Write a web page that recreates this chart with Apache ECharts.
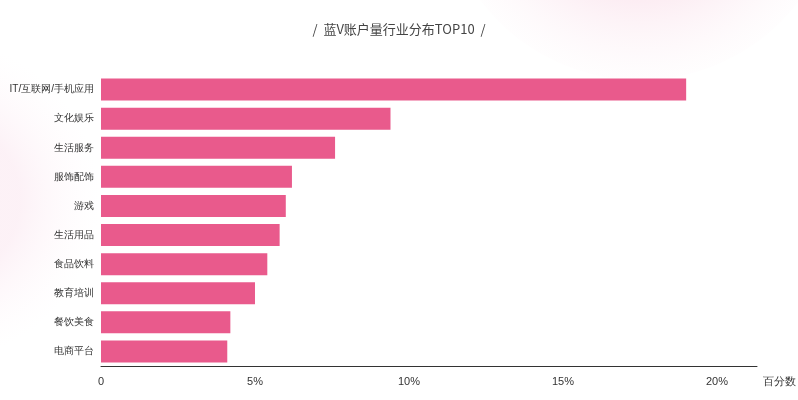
<!DOCTYPE html>
<html><head><meta charset="utf-8">
<script src="https://cdn.jsdelivr.net/npm/echarts@6/dist/echarts.min.js"></script>
<style>html,body{margin:0;padding:0;background:#fff}#c{width:798px;height:400px}</style>
</head><body><div id="c"></div>
<script>
const categories = ['IT/互联网/手机应用','文化娱乐','生活服务','服饰配饰','游戏','生活用品','食品饮料','教育培训','餐饮美食','电商平台'];
const values = [19.0, 9.4, 7.6, 6.2, 6.0, 5.8, 5.4, 5.0, 4.2, 4.1];
const chart = echarts.init(document.getElementById('c'));
chart.setOption({
  backgroundColor: '#fff',
  graphic: [
    {type:'circle', shape:{cx:640,cy:-120,r:200}, z:-10, silent:true,
     style:{fill:new echarts.graphic.RadialGradient(0.5,0.5,0.5,[{offset:0.6,color:'rgba(250,225,235,0.6)'},{offset:1,color:'rgba(252,240,245,0.1)'}])}},
    {type:'circle', shape:{cx:-60,cy:200,r:160}, z:-10, silent:true,
     style:{fill:new echarts.graphic.RadialGradient(0.5,0.5,0.5,[{offset:0.5,color:'rgba(250,228,238,0.5)'},{offset:1,color:'rgba(255,245,250,0)'}])}},
    {type:'text', left:'center', top:23, z:10,
     style:{text:'/  蓝V账户量行业分布TOP10  /', fill:'#444', font:'13px "Noto Sans CJK SC", sans-serif'}}
  ],
  grid: {left:101, right:41, top:75, bottom:34, containLabel:false, outerBoundsMode:'none'},
  xAxis: {
    type:'value', min:0, max:21.3, interval:5,
    name:'百分数', nameLocation:'end', nameGap:6,
    nameTextStyle:{color:'#333', fontSize:11, padding:[10,0,0,0], verticalAlign:'top'},
    axisLine:{show:true, lineStyle:{color:'#333'}},
    axisTick:{show:false}, splitLine:{show:false},
    axisLabel:{color:'#333', fontSize:11, margin:10, showMaxLabel:false,
      formatter:v=> v===0?'0':v+'%'}
  },
  yAxis: {
    type:'category', data:categories, inverse:true,
    axisLine:{show:false}, axisTick:{show:false},
    axisLabel:{color:'#333', fontSize:10, margin:7}
  },
  series: [{
    type:'bar', data:values, barWidth:22,
    itemStyle:{color:'#e95a8c'}
  }]
});
</script></body></html>
